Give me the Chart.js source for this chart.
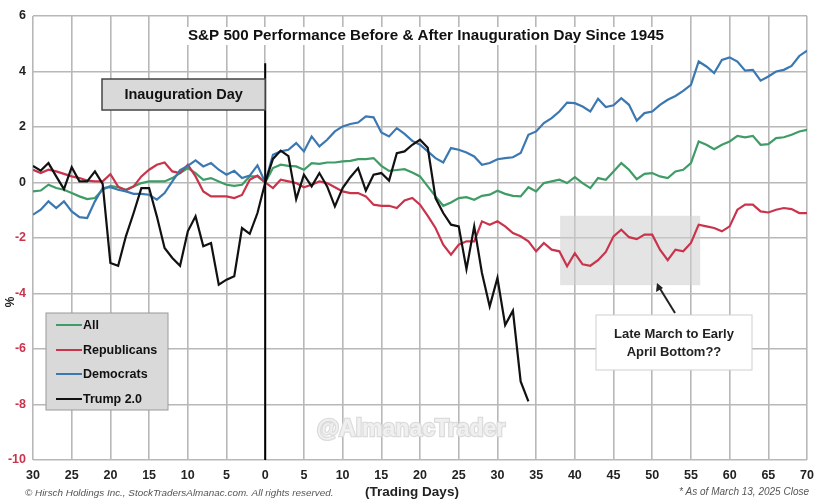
<!DOCTYPE html>
<html>
<head>
<meta charset="utf-8">
<script src="https://cdn.jsdelivr.net/npm/chart.js@4.4.1/dist/chart.umd.min.js"></script>
<style>
  html, body { margin: 0; padding: 0; background: #fff; }
  #wrap { width: 822px; height: 501px; position: relative; }
</style>
</head>
<body>
<div id="wrap"><canvas id="sp-chart"></canvas></div>
<script>
/// ------------- DATA --------------- ///

const firstDay = -30;

const allValues = [
    -0.32, -0.29, -0.08, -0.2, -0.26, -0.38, -0.5, -0.6, -0.56, -0.26,
    -0.12, -0.17, -0.26, -0.14, -0.02, 0.04, 0.04, 0.04, 0.16, 0.34,
    0.52, 0.34, 0.1, 0.16, 0.04, -0.08, -0.12, -0.08, 0.22, 0.22,
    0,
    0.52, 0.64, 0.6, 0.58, 0.46, 0.7, 0.67, 0.72, 0.72, 0.76,
    0.78, 0.84, 0.84, 0.88, 0.6, 0.42, 0.45, 0.48, 0.36, 0.22,
    -0.14, -0.5, -0.84, -0.72, -0.56, -0.53, -0.62, -0.48, -0.44, -0.3,
    -0.41, -0.48, -0.5, -0.17, -0.32, -0.02, 0.04, 0.1, -0.02, 0.19,
    -0.02, -0.2, 0.16, 0.1, 0.4, 0.7, 0.46, 0.12, 0.31, 0.34,
    0.22, 0.16, 0.4, 0.46, 0.7, 1.48, 1.36, 1.2, 1.36, 1.48,
    1.68, 1.63, 1.68, 1.36, 1.38, 1.6, 1.63, 1.72, 1.84, 1.9
];

const republicanValues = [
    0.46, 0.34, 0.46, 0.4, 0.31, 0.22, 0.16, 0.07, 0.04, 0.04,
    0.3, -0.15, -0.28, -0.14, 0.22, 0.46, 0.64, 0.72, 0.4, 0.34,
    0.64, 0.22, -0.32, -0.5, -0.5, -0.5, -0.56, -0.45, 0.1, 0.25,
    0,
    -0.2, 0.1, 0.04, -0.02, -0.17, -0.08, 0.04, -0.02, -0.17, -0.32,
    -0.38, -0.38, -0.5, -0.8, -0.84, -0.84, -0.92, -0.65, -0.56, -0.8,
    -1.2, -1.64, -2.24, -2.6, -2.24, -2.12, -2.12, -1.4, -1.52, -1.4,
    -1.58, -1.82, -1.94, -2.12, -2.48, -2.18, -2.42, -2.48, -3.02, -2.55,
    -2.95, -3.0, -2.8, -2.5, -1.94, -1.7, -1.97, -2.04, -1.88, -1.88,
    -2.42, -2.8, -2.42, -2.48, -2.18, -1.52, -1.58, -1.64, -1.76, -1.58,
    -0.98, -0.8, -0.8, -1.04, -1.08, -0.98, -0.92, -0.96, -1.1, -1.1
];

const democratValues = [
    -1.16, -0.98, -0.68, -0.92, -0.68, -1.04, -1.25, -1.28, -0.68, -0.2,
    -0.17, -0.26, -0.32, -0.41, -0.41, -0.44, -0.62, -0.38, 0.04, 0.45,
    0.6, 0.8, 0.58, 0.7, 0.46, 0.28, 0.42, 0.16, 0.25, 0.62,
    0,
    1.0, 1.12, 1.18, 1.42, 1.12, 1.66, 1.3, 1.54, 1.84, 2.02,
    2.11, 2.16, 2.38, 2.35, 1.8, 1.66, 1.96, 1.75, 1.5, 1.36,
    1.12, 0.88, 0.72, 1.24, 1.18, 1.08, 0.94, 0.64, 0.7, 0.84,
    0.88, 0.91, 1.06, 1.72, 1.84, 2.14, 2.32, 2.56, 2.88, 2.86,
    2.74, 2.56, 3.02, 2.72, 2.78, 3.04, 2.8, 2.23, 2.5, 2.56,
    2.8, 2.98, 3.12, 3.3, 3.52, 4.36, 4.18, 3.94, 4.42, 4.51,
    4.36, 4.03, 4.06, 3.67, 3.82, 4.0, 4.06, 4.2, 4.56, 4.75
];

// Trump 2.0 only runs to day 34
const trumpValues = [
    0.6, 0.43, 0.7, 0.22, -0.24, 0.55, 0.04, 0.04, 0.4, -0.05,
    -2.9, -3.0, -1.94, -1.1, -0.2, -0.2, -1.22, -2.36, -2.72, -3.0,
    -1.76, -1.22, -2.3, -2.18, -3.68, -3.5, -3.38, -1.64, -1.85, -1.1,
    0,
    0.85, 1.15, 0.95, -0.6, 0.28, -0.14, 0.34, -0.14, -0.86, -0.2,
    0.19, 0.52, -0.29, 0.28, 0.34, 0.07, 1.06, 1.12, 1.36, 1.54,
    1.25, -0.56, -1.1, -1.52, -1.58, -3.12, -1.58, -3.26, -4.47, -3.44,
    -5.14, -4.62, -7.17, -7.89
];

const seriesNames = ["All", "Republicans", "Democrats", "Trump 2.0"];
const seriesColors = ["#3f9c66", "#c9344c", "#3b78b2", "#111111"];

/// ------------- HELPERS --------------- ///

function toPoints(values) {
    return values.map((v, i) => ({ x: firstDay + i, y: v }));
}

const FONT = "'Liberation Sans', Arial";

const extras = {
    id: "extras",
    beforeDatasetsDraw(chart) {
        const { ctx, scales: { x, y } } = chart;
        // shaded "bottom" zone
        ctx.save();
        ctx.fillStyle = "rgba(205,205,205,0.55)";
        const x1 = x.getPixelForValue(38.1), x2 = x.getPixelForValue(56.2);
        const y1 = y.getPixelForValue(-1.2), y2 = y.getPixelForValue(-3.7);
        ctx.fillRect(x1, y1, x2 - x1, y2 - y1);
        ctx.restore();
    },
    afterDatasetsDraw(chart) {
        const { ctx, scales: { x, y } } = chart;
        ctx.save();

        // inauguration day line
        const x0 = x.getPixelForValue(0);
        ctx.strokeStyle = "#000";
        ctx.lineWidth = 2;
        ctx.beginPath();
        ctx.moveTo(x0, y.getPixelForValue(4.3));
        ctx.lineTo(x0, y.getPixelForValue(-10));
        ctx.stroke();

        // inauguration box
        ctx.fillStyle = "#d9d9d9";
        ctx.fillRect(102, 79, x0 - 102, 31);
        ctx.strokeStyle = "#444";
        ctx.lineWidth = 1.5;
        ctx.strokeRect(102, 79, x0 - 102, 31);
        ctx.fillStyle = "#111";
        ctx.font = "bold 14.5px " + FONT;
        ctx.textAlign = "center";
        ctx.textBaseline = "middle";
        ctx.fillText("Inauguration Day", (102 + x0) / 2, 95);

        // title
        ctx.font = "bold 15.2px " + FONT;
        const title = "S&P 500 Performance Before & After Inauguration Day Since 1945";
        const tw = ctx.measureText(title).width;
        ctx.fillStyle = "#fff";
        ctx.fillRect(426 - tw / 2 - 4, 27, tw + 8, 18);
        ctx.fillStyle = "#111";
        ctx.fillText(title, 426, 36);

        // callout box + arrow
        ctx.fillStyle = "#fff";
        ctx.fillRect(596, 315, 156, 55);
        ctx.strokeStyle = "#cfcfcf";
        ctx.lineWidth = 1;
        ctx.strokeRect(596, 315, 156, 55);
        ctx.fillStyle = "#222";
        ctx.font = "bold 13px " + FONT;
        ctx.fillText("Late March to Early", 674, 334);
        ctx.fillText("April Bottom??", 674, 352);

        ctx.strokeStyle = "#222";
        ctx.lineWidth = 2;
        ctx.beginPath();
        ctx.moveTo(675, 313);
        ctx.lineTo(659, 287);
        ctx.stroke();
        ctx.beginPath();
        ctx.moveTo(657, 283);
        ctx.lineTo(656, 292);
        ctx.lineTo(663, 288);
        ctx.closePath();
        ctx.fillStyle = "#222";
        ctx.fill();

        // legend
        ctx.fillStyle = "#d9d9d9";
        ctx.fillRect(46, 313, 122, 97);
        ctx.strokeStyle = "#9a9a9a";
        ctx.lineWidth = 1;
        ctx.strokeRect(46, 313, 122, 97);
        ctx.font = "bold 12.5px " + FONT;
        ctx.textAlign = "left";
        const rows = [325, 350, 374, 399];
        seriesNames.forEach((name, i) => {
            ctx.strokeStyle = seriesColors[i];
            ctx.lineWidth = 2;
            ctx.beginPath();
            ctx.moveTo(56, rows[i]);
            ctx.lineTo(82, rows[i]);
            ctx.stroke();
            ctx.fillStyle = "#111";
            ctx.fillText(name, 83, rows[i] + 1);
        });

        // watermark
        ctx.font = "bold 23px " + FONT;
        ctx.textAlign = "center";
        ctx.lineWidth = 2.5;
        ctx.strokeStyle = "#dcdcdc";
        ctx.strokeText("@AlmanacTrader", 411, 430);
        ctx.fillStyle = "#f0f0f0";
        ctx.fillText("@AlmanacTrader", 411, 430);

        ctx.restore();
    },
    afterDraw(chart) {
        const { ctx } = chart;
        ctx.save();
        ctx.fillStyle = "#222";
        ctx.textBaseline = "middle";

        ctx.font = "bold 13.5px " + FONT;
        ctx.textAlign = "center";
        ctx.fillText("(Trading Days)", 412, 492);

        ctx.font = "italic 9.9px " + FONT;
        ctx.fillStyle = "#555";
        ctx.textAlign = "left";
        ctx.fillText("© Hirsch Holdings Inc., StockTradersAlmanac.com. All rights reserved.", 25, 493);
        ctx.font = "italic 10px " + FONT;
        ctx.textAlign = "right";
        ctx.fillText("* As of March 13, 2025 Close", 809, 492);

        // y axis title
        ctx.translate(11, 302);
        ctx.rotate(-Math.PI / 2);
        ctx.font = "bold 12px " + FONT;
        ctx.fillStyle = "#222";
        ctx.textAlign = "center";
        ctx.fillText("%", 0, 0);
        ctx.restore();
    }
};

/// ------------- CHART --------------- ///

const datasets = [
    { label: seriesNames[3], data: toPoints(trumpValues), borderColor: seriesColors[3], order: 0 },
    { label: seriesNames[2], data: toPoints(democratValues), borderColor: seriesColors[2], order: 1 },
    { label: seriesNames[1], data: toPoints(republicanValues), borderColor: seriesColors[1], order: 2 },
    { label: seriesNames[0], data: toPoints(allValues), borderColor: seriesColors[0], order: 3 }
].map(ds => ({ ...ds, borderWidth: 2.2, pointRadius: 0, tension: 0, fill: false }));

new Chart(document.getElementById("sp-chart"), {
    type: "line",
    data: { datasets },
    options: {
        responsive: true,
        maintainAspectRatio: false,
        animation: false,
        layout: { padding: { top: 16, right: 11, bottom: 17, left: 0 } },
        plugins: {
            legend: { display: false },
            tooltip: { enabled: false }
        },
        scales: {
            x: {
                type: "linear",
                min: -30,
                max: 70,
                afterFit: scale => { scale.height = 24; },
                border: { display: false },
                grid: { color: "#b8b8b8", lineWidth: 1.6, drawTicks: false },
                ticks: {
                    stepSize: 5,
                    padding: 8,
                    color: "#222",
                    font: { family: FONT, size: 12.5, weight: "bold" },
                    maxRotation: 0,
                    callback: v => Math.abs(v)
                }
            },
            y: {
                min: -10,
                max: 6,
                afterFit: scale => { scale.width = 33; },
                border: { display: false },
                grid: { color: "#b8b8b8", lineWidth: 1.6, drawTicks: false },
                ticks: {
                    stepSize: 2,
                    padding: 7,
                    color: ctx => ctx.tick && ctx.tick.value < 0 ? "#c9344c" : "#222",
                    font: { family: FONT, size: 12.5, weight: "bold" }
                }
            }
        }
    },
    plugins: [extras]
});
</script>
</body>
</html>
